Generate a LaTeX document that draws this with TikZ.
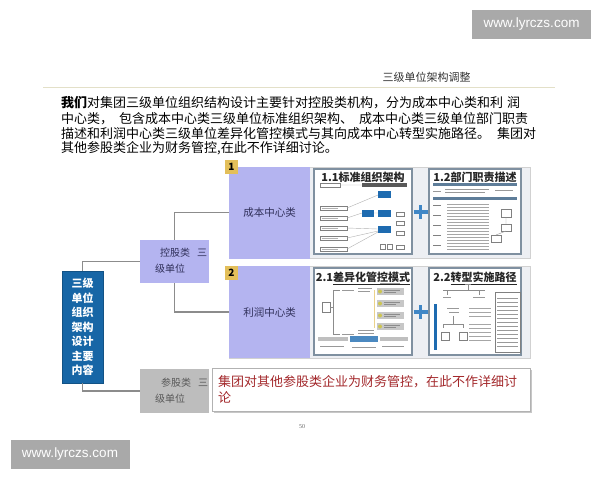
\documentclass[tikz,border=0pt]{standalone}
\usepackage{fontspec}
\setmainfont{Noto Sans CJK SC}
\newfontfamily\wmfont{Liberation Sans}
\newfontfamily\numfont{Liberation Serif}
\newcommand\myfs[2]{\fontsize{#1}{#2}\selectfont}
\definecolor{lav}{HTML}{B4B4F0}
\definecolor{navy}{HTML}{1766A6}
\definecolor{gold}{HTML}{E3BF5A}
\definecolor{conn}{HTML}{8C8C8C}
\definecolor{darkred}{HTML}{A3282B}
\definecolor{panel}{HTML}{EDEFF3}
\definecolor{thumbedge}{HTML}{7F90A0}
\definecolor{tblue}{HTML}{1E6BB0}
\definecolor{plusblue}{HTML}{3F86C6}
\definecolor{rulecol}{HTML}{E3E0C8}
\definecolor{wmgray}{HTML}{A9A9A9}
\definecolor{barblue}{HTML}{5E7D99}
\definecolor{boxtext}{HTML}{30305A}
\begin{document}
\begin{tikzpicture}[x=1pt,y=-1pt,
  wmbox/.style={fill=wmgray,text=white,font=\wmfont\myfs{13.5}{13.5},minimum width=119pt,minimum height=29pt,inner sep=0pt},
  ptext/.style={anchor=west,inner sep=0pt,font=\myfs{13}{15}},
  conline/.style={draw=conn,line width=1.2pt},
  bluebox/.style={fill=navy,draw=navy!80!black,line width=.4pt,text=white,align=center,font=\bfseries\myfs{11}{14.5},minimum width=41pt,minimum height=112pt,inner sep=0pt},
  lavbox/.style={fill=lav,minimum width=69pt,minimum height=43pt,inner sep=0pt},
  graybox/.style={fill=black!26,minimum width=69pt,minimum height=44pt,inner sep=0pt},
  rowbox/.style={fill=lav,text=boxtext,font=\myfs{10.5}{12},minimum width=81pt,minimum height=92pt,inner sep=0pt},
  badge/.style={fill=gold,font=\bfseries\myfs{10}{10},minimum width=13pt,minimum height=14pt,inner sep=0pt},
  subtext/.style={anchor=west,inner sep=0pt,font=\myfs{10}{12}},
  thumb/.style={fill=white,draw=thumbedge,line width=1.2pt},
  ttitle/.style={inner sep=0pt,text=black!85,font=\bfseries\myfs{11}{12}},
  tline/.style={draw=black!40,line width=.5pt},
  tbox/.style={draw=black!50,line width=.4pt,fill=white},
  plus/.style={draw=plusblue,line width=3.5pt},
  notebox/.style={fill=white,draw=black!30,line width=.6pt,minimum width=318pt,minimum height=43pt,text width=306pt,align=left,text=darkred,font=\myfs{13}{16}}
]
\useasboundingbox (0,0) rectangle (600,480);
\fill[white] (0,0) rectangle (600,480);

% watermarks
\node[wmbox] (wm1) at (531.5,24.5) {www.lyrczs.com};
\node[wmbox] (wm2) at (70,454.5) {www.lyrczs.com};

% header
\node[inner sep=0pt,text=black!80,font=\myfs{11}{12}] (title) at (426.5,77) {三级单位架构调整};
\draw[rulecol,line width=.8pt] (43,87) -- (555,87);

% paragraph
\node[ptext] (p1) at (61,103) {\textbf{我们}对集团三级单位组织结构设计主要针对控股类机构，分为成本中心类和利\hspace{4pt}润};
\node[ptext] (p2) at (61,118.5) {中心类，\hspace{6pt}包含成本中心类三级单位标准组织架构、\hspace{6pt}成本中心类三级单位部门职责};
\node[ptext] (p3) at (61,133.5) {描述和利润中心类三级单位差异化管控模式与其向成本中心转型实施路径。\hspace{7pt}集团对};
\node[ptext] (p4) at (61,148.5) {其他参股类企业为财务管控,在此不作详细讨论。};

% row panels
\draw[fill=panel,draw=black!18,line width=.6pt] (229,167) rectangle (530,258);
\draw[fill=panel,draw=black!18,line width=.6pt] (229,266) rectangle (530,358);

% main boxes
\node[bluebox] (blue) at (82.5,327) {三级\\单位\\组织\\架构\\设计\\主要\\内容};
\node[lavbox] (kong) at (174.5,261.5) {};
\node[subtext,text=boxtext] (kongA) at (160,252.5) {控股类\hspace{7pt}三};
\node[subtext,text=boxtext] (kongB) at (155,269) {级单位};
\node[graybox] (can) at (174.5,391) {};
\node[subtext,text=black!65] (canA) at (161,383) {参股类\hspace{7pt}三};
\node[subtext,text=black!65] (canB) at (155,398.5) {级单位};
\node[rowbox] (cb) at (269.5,212.5) {成本中心类};
\node[rowbox] (lr) at (269.5,312) {利润中心类};
\node[badge] (b1) at (231.5,167) {1};
\node[badge] (b2) at (231.5,273) {2};

% connectors
\draw[conline] (blue.north) |- (kong.west);
\draw[conline] (blue.south) |- (can.west);
\draw[conline] (kong.north) |- (cb.west);
\draw[conline] (kong.south) |- (lr.west);

% note box
\fill[black!22] (213.5,369.5) rectangle (531.5,412.5);
\node[notebox] (note) at (371,389.5) {集团对其他参股类企业为财务管控，在此不作详细讨\\论};

% plus signs
\draw[plus] (413.5,212) -- (427.5,212);
\draw[plus] (420.5,205) -- (420.5,219);
\draw[plus] (413.5,312) -- (427.5,312);
\draw[plus] (420.5,305) -- (420.5,319);

% thumbnail 1.1
\begin{scope}[shift={(314,169)}]
\draw[thumb] (0,0) rectangle (98,85);
\node[ttitle] (t11) at (49,8) {1.1标准组织架构};
\draw[tbox] (6,14) rectangle (26,18);
\fill[black!65] (48,13.5) rectangle (93,18);
\foreach \yy in {37,47,57,67,78} {\draw[tbox] (6,\yy) rectangle (33,\yy+4); \draw[black!30,line width=.4pt] (8,\yy+2) -- (24,\yy+2);}
\draw[black!30,line width=.4pt] (33,39) -- (64,26) (33,49) -- (48,44) (60,44) -- (64,44) (33,59) -- (64,60) (33,69) -- (64,62) (33,80) -- (64,63) (26,16) -- (48,16);
\fill[tblue] (64,22) rectangle (77,29);
\fill[tblue] (48,41) rectangle (60,48);
\fill[tblue] (64,41) rectangle (77,48);
\fill[tblue] (64,57) rectangle (77,64);
\foreach \yy in {43,52,62,76} {\draw[tbox] (82,\yy) rectangle (90,\yy+4);}
\draw[tbox] (66,75) rectangle (71,80);
\draw[tbox] (73,75) rectangle (78,80);
\end{scope}

% thumbnail 1.2
\begin{scope}[shift={(429,169)}]
\draw[thumb] (0,0) rectangle (92,85);
\node[ttitle] (t12) at (46,8) {1.2部门职责描述};
\fill[barblue] (4,14) rectangle (88,17);
\draw[tline] (16,20.5) -- (60,20.5) (16,23.5) -- (56,23.5) (4,22) -- (12,22) (66,21) -- (84,21);
\fill[barblue] (4,28) rectangle (88,31);
\foreach \yy in {35,38,...,80} {\draw[black!35,line width=.5pt] (18,\yy) -- (60,\yy);}
\foreach \yy in {36,46,56,66,76} {\draw[black!50,line width=1pt] (4,\yy) -- (12,\yy);}
\draw[tbox] (72,40) rectangle (82,48);
\draw[tbox] (72,55) rectangle (82,62);
\draw[tbox] (62,66) rectangle (72,73);
\draw[black!40,line width=.4pt] (77,48) -- (77,55) (77,62) -- (67,66);
\end{scope}

% thumbnail 2.1
\begin{scope}[shift={(314,268)}]
\draw[thumb] (0,0) rectangle (98,87);
\node[ttitle] (t21) at (49,10) {2.1\underline{差异化管控模式}};
\draw[tbox] (8,34) rectangle (16,44);
\draw[black!45,line width=.5pt] (16,39) -- (19,39) (19,22) -- (19,66) (19,22) -- (26,22) (19,66) -- (26,66);
\draw[tline] (28,22) -- (40,22) (28,66) -- (40,66) (44,20) -- (58,20) (44,23) -- (56,23) (44,62) -- (60,62) (44,65) -- (60,65) (44,68) -- (58,68) (66,15) -- (86,15);
\draw[gold!70,line width=.8pt] (60,22) -- (60,60);
\foreach \yy in {20,32,44,55} {\fill[black!22] (63,\yy) rectangle (90,\yy+7); \fill[gold!90!green] (66,\yy+3.5) circle (2pt); \draw[black!45,line width=.4pt] (70,\yy+2.5) -- (86,\yy+2.5) (70,\yy+4.5) -- (82,\yy+4.5);}
\fill[black!25] (4,69) rectangle (34,73);
\fill[tblue!80] (36,68) rectangle (64,74);
\fill[black!25] (66,69) rectangle (94,73);
\draw[tline] (6,78) -- (30,78) (38,79) -- (62,79) (68,78) -- (90,78);
\end{scope}

% thumbnail 2.2
\begin{scope}[shift={(429,268)}]
\draw[thumb] (0,0) rectangle (92,87);
\node[ttitle] (t22) at (46,10) {2.2\underline{转型实施路径}};
\fill[tblue] (5,36) rectangle (8,82);
\draw[black!45,line width=.5pt] (36,16) -- (42,16) (39,16) -- (39,22) (14,22) -- (56,22) (18,22) -- (18,27) (50,22) -- (50,27) (14,56) -- (34,56) (14,56) -- (14,60) (34,56) -- (34,60) (24,48) -- (24,56);
\draw[tline] (14,29) -- (22,29) (44,29) -- (56,29) (18,40) -- (30,40) (20,44) -- (30,44);
\foreach \yy in {40,44,48,56,60,64,68,72} {\draw[black!35,line width=.5pt] (40,\yy) -- (62,\yy);}
\draw[tbox] (12,64) rectangle (20,72);
\draw[tbox] (30,64) rectangle (38,72);
\draw[draw=black!50,line width=.6pt,fill=white] (66,24) rectangle (91,84);
\foreach \yy in {30,34,...,80} {\draw[black!40,line width=.6pt] (68,\yy) -- (89,\yy);}
\end{scope}

% page number
\node[inner sep=0pt,text=black!60,font=\numfont\myfs{6}{6}] (pg) at (302,427) {50};
\end{tikzpicture}
\end{document}
